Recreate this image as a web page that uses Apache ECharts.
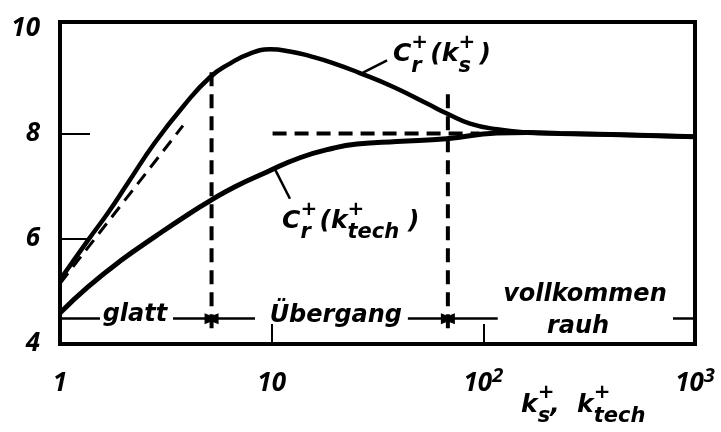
<!DOCTYPE html>
<html>
<head>
<meta charset="utf-8">
<script src="https://cdn.jsdelivr.net/npm/echarts@6/dist/echarts.min.js"></script>
<style>
  html, body { margin: 0; padding: 0; background: #fff; }
  #chart { width: 721px; height: 432px; }
</style>
</head>
<body>
<div id="chart"></div>
<script>
// Roughness function C_r+ over the roughness Reynolds number (log scale)
const ksPlus   = [1, 1.36, 1.69, 2.1, 2.81, 3.81, 5.11, 6.35, 7.9, 9.8, 12.2, 15.2, 19.5, 26.1, 37.4, 54.2, 68.1, 86.5, 116, 161, 230, 400, 1000];
const crKs     = [5.22, 5.98, 6.50, 7.07, 7.83, 8.51, 9.07, 9.33, 9.52, 9.60, 9.56, 9.47, 9.34, 9.15, 8.89, 8.57, 8.37, 8.19, 8.08, 8.02, 8.00, 7.98, 7.94];

const kTechPlus = [1, 1.36, 1.96, 2.81, 4.02, 5.11, 6.71, 9.5, 13.6, 19.5, 25.3, 39, 67, 116, 161, 230, 400, 1000];
const crKtech   = [4.59, 5.09, 5.60, 6.04, 6.46, 6.72, 6.99, 7.27, 7.54, 7.72, 7.80, 7.85, 7.90, 8.01, 8.02, 8.00, 7.98, 7.94];

// hydraulically smooth asymptote (log law) and fully rough level
const smoothLawK = [1, 3.81];
const smoothLawC = [5.15, 8.15];
const roughLevelK = [10.1, 96];
const roughLevelC = [8, 8];

// regime limits
const limitSmooth = 5.2;
const limitRough = 68;
const limitSpan = [4.3, 9.28];
const limitSpan2 = [4.3, 8.85];

// regime arrows row
const regimeRowC = 4.48;
const regimeNames = ['glatt', 'Übergang', 'vollkommen', 'rauh'];

// axis ticks
const yTickLabels = [4, 6, 8, 10];
const yInnerTicks = [6, 8];

const WORD_FONT = '"DejaVu Sans", sans-serif';
const NUM_FONT = '"Open Sans", "DejaVu Sans", sans-serif';
const word = { fontFamily: WORD_FONT, fontStyle: 'italic', fontWeight: 'bold', color: '#000' };
const num = { fontFamily: NUM_FONT, fontStyle: 'italic', fontWeight: 700, color: '#000' };

// base text, stacked superscript (zero advance) and subscript
const richStyles = {
  w:   Object.assign({}, word, { fontSize: 24, lineHeight: 44 }),
  b:   Object.assign({}, word, { fontSize: 25, lineHeight: 44 }),
  sup: Object.assign({}, word, { fontSize: 20, lineHeight: 20, verticalAlign: 'top', width: 0 }),
  sub: Object.assign({}, word, { fontSize: 21, lineHeight: 26, verticalAlign: 'bottom' })
};

function pairs(xs, ys) { return xs.map((x, i) => [x, ys[i]]); }

const chart = echarts.init(document.getElementById('chart'), null, { renderer: 'canvas' });

const hLine = (k1, k2, c, sym) => [
  { coord: [k1, c], symbol: sym[0] },
  { coord: [k2, c], symbol: sym[1] }
];

const option = {
  animation: false,
  backgroundColor: '#fff',
  grid: { left: 60, right: 26, top: 22, bottom: 88, show: true, borderColor: '#000', borderWidth: 4 },
  xAxis: {
    type: 'log', logBase: 10, min: 1, max: 1000,
    axisLine: { show: false },
    splitLine: { show: false },
    minorTick: { show: false },
    axisTick: { show: true, inside: true, length: 20, lineStyle: { color: '#000', width: 2 } },
    axisLabel: {
      margin: 22,
      fontFamily: NUM_FONT, fontStyle: 'italic', fontWeight: 700, fontSize: 26, color: '#000',
      lineHeight: 36,
      formatter: function (v) {
        const e = Math.round(Math.log10(v));
        if (e === 0) return '{b|1}';
        if (e === 1) return '{b|10}';
        return '{b|10}{e|' + e + '}';
      },
      rich: {
        b: Object.assign({}, num, { fontSize: 26, lineHeight: 36 }),
        e: Object.assign({}, num, { fontSize: 20, lineHeight: 20, verticalAlign: 'top' })
      }
    }
  },
  yAxis: {
    type: 'value', min: 4, max: 10.12,
    axisLine: { show: false },
    splitLine: { show: false },
    axisTick: { show: true, inside: true, length: 30, customValues: yInnerTicks, lineStyle: { color: '#000', width: 2 } },
    axisLabel: {
      customValues: yTickLabels,
      margin: 20,
      fontFamily: NUM_FONT, fontStyle: 'italic', fontWeight: 700, fontSize: 26, color: '#000'
    }
  },
  graphic: [{
    type: 'text', left: 521, top: 383,
    style: {
      text: '{b|k}{sup|+}{sub|s}{b|,  k}{sup|+}{sub|tech}',
      rich: richStyles
    }
  }],
  series: [
    {
      name: 'C_r+(k_s+)', type: 'line', smooth: 0.5, showSymbol: false, silent: true,
      data: pairs(ksPlus, crKs),
      lineStyle: { color: '#000', width: 4.5 }
    },
    {
      name: 'C_r+(k_tech+)', type: 'line', smooth: 0.5, showSymbol: false, silent: true,
      data: pairs(kTechPlus, crKtech),
      lineStyle: { color: '#000', width: 5 }
    },
    {
      name: 'smooth law', type: 'line', showSymbol: false, silent: true,
      data: pairs(smoothLawK, smoothLawC),
      lineStyle: { color: '#000', width: 3, type: [13, 8] }
    },
    {
      name: 'rough level', type: 'line', showSymbol: false, silent: true,
      data: pairs(roughLevelK, roughLevelC),
      lineStyle: { color: '#000', width: 4, type: [14, 8] }
    },
    {
      name: 'limit smooth', type: 'line', showSymbol: false, silent: true,
      data: [[limitSmooth, limitSpan[0]], [limitSmooth, limitSpan[1]]],
      lineStyle: { color: '#000', width: 4, type: [14, 8] }
    },
    {
      name: 'limit rough', type: 'line', showSymbol: false, silent: true,
      data: [[limitRough, limitSpan2[0]], [limitRough, limitSpan2[1]]],
      lineStyle: { color: '#000', width: 4, type: [14, 8] }
    },
    {
      name: 'annotations', type: 'line', data: [], silent: true,
      markLine: {
        silent: true, animation: false,
        symbolSize: [11, 14],
        label: { show: false },
        lineStyle: { color: '#000', width: 2.5, type: 'solid' },
        emphasis: { disabled: true },
        data: [
          hLine(1, 1.545, regimeRowC, ['none', 'none']),
          hLine(3.42, limitSmooth, regimeRowC, ['none', 'triangle']),
          hLine(8.34, limitSmooth, regimeRowC, ['none', 'triangle']),
          hLine(44, limitRough, regimeRowC, ['none', 'triangle']),
          hLine(117, limitRough, regimeRowC, ['none', 'triangle']),
          hLine(787, 1000, regimeRowC, ['none', 'none']),
          [{ coord: [27.0, 9.16], symbol: 'none' }, { coord: [35.1, 9.39], symbol: 'none' }],
          [{ coord: [10.4, 7.31], symbol: 'none' }, { coord: [12.2, 6.76], symbol: 'none' }]
        ]
      },
      markPoint: {
        silent: true, symbol: 'circle', symbolSize: 0,
        itemStyle: { color: 'transparent' },
        label: {
          show: true, position: 'inside', color: '#000',
          fontFamily: WORD_FONT, fontStyle: 'italic', fontWeight: 'bold', fontSize: 24,
          rich: richStyles
        },
        data: [
          { coord: [2.26, 4.55], label: { formatter: '{w|' + regimeNames[0] + '}' } },
          { coord: [20.1, 4.54], label: { formatter: '{w|' + regimeNames[1] + '}' } },
          { coord: [302, 4.94], label: { formatter: '{w|' + regimeNames[2] + '}' } },
          { coord: [280, 4.33], label: { formatter: '{w|' + regimeNames[3] + '}' } },
          { coord: [37.4, 9.50], label: { position: 'right', distance: 0, formatter: '{b|C}{sup|+}{sub|r}{b| (k}{sup|+}{sub|s}{b| )}' } },
          { coord: [11.2, 6.33], label: { position: 'right', distance: 0, formatter: '{b|C}{sup|+}{sub|r}{b| (k}{sup|+}{sub|tech}{b| )}' } }
        ]
      }
    }
  ]
};

chart.setOption(option);
</script>
</body>
</html>
